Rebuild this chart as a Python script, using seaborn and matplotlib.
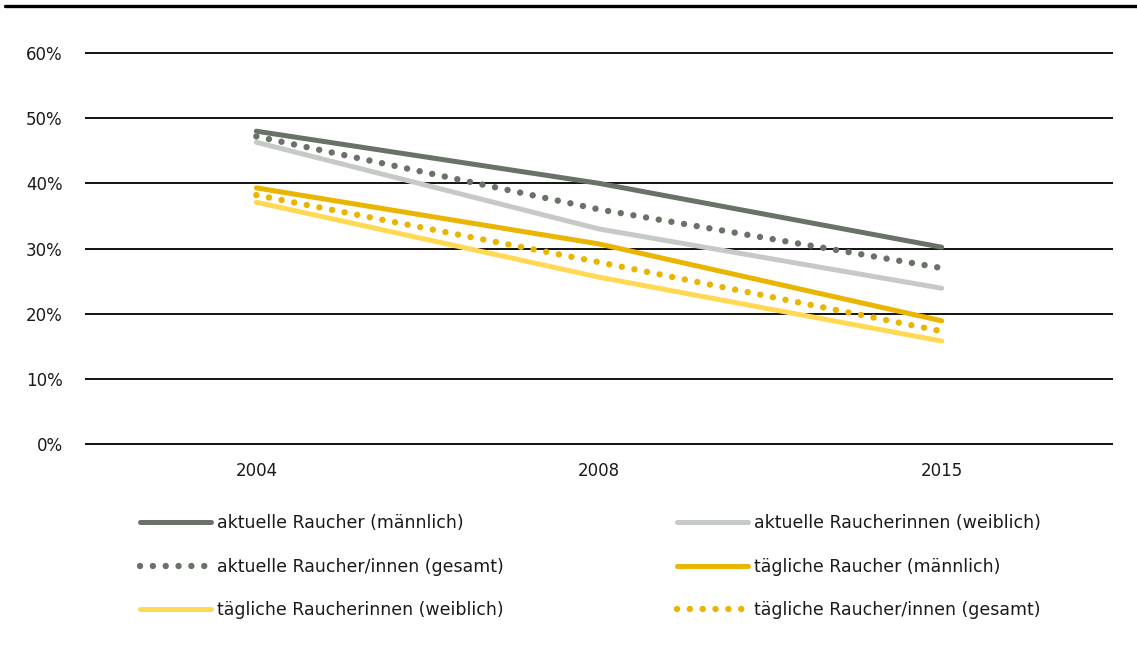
"""
Raucherquoten 2004 / 2008 / 2015 als Liniendiagramm
"""

import numpy as np
import pandas as pd
import matplotlib
matplotlib.use('Agg')
import matplotlib.pyplot as plt
from matplotlib.lines import Line2D
from matplotlib.ticker import PercentFormatter
import seaborn as sns

sns.set_theme(style='white')
plt.rcParams['font.family'] = ['DejaVu Sans']

# Daten (Anteile in %)
jahre = ['2004', '2008', '2015']
serien = [
    'aktuelle Raucher (männlich)',
    'aktuelle Raucherinnen (weiblich)',
    'aktuelle Raucher/innen (gesamt)',
    'tägliche Raucher (männlich)',
    'tägliche Raucherinnen (weiblich)',
    'tägliche Raucher/innen (gesamt)',
]
akt_m = [48.0, 40.0, 30.2]
akt_w = [46.3, 33.0, 23.9]
akt_g = [47.2, 36.0, 27.0]
tgl_m = [39.3, 30.7, 18.9]
tgl_w = [37.1, 25.6, 15.8]
tgl_g = [38.2, 27.9, 17.3]

farben = ['#697267', '#c6cac7', '#697267', '#e9b500', '#ffd954', '#e9b500']
gepunktet = [False, False, True, False, False, True]

werte = [akt_m, akt_w, akt_g, tgl_m, tgl_w, tgl_g]
df = pd.DataFrame({
    'Jahr': jahre * len(serien),
    'Anteil': np.concatenate(werte) / 100,
    'Serie': np.repeat(serien, len(jahre)),
})

W, H = 1137, 653
fig = plt.figure(figsize=(W / 100, H / 100), dpi=100)
y0, y60 = 444, 53
pad = 0.006
px_per = (y0 - y60) / 0.6
ax_bottom = H - y0 - pad * px_per
ax_top = H - y60 + pad * px_per
ax = fig.add_axes([85 / W, ax_bottom / H, (1113 - 85) / W, (ax_top - ax_bottom) / H])

for name, col, dot in zip(serien, farben, gepunktet):
    sub = df[df.Serie == name]
    sns.lineplot(data=sub, x='Jahr', y='Anteil', color=col, ax=ax,
                 lw=4.6 if dot else 3.6, ls=(0, (0.01, 2.0)) if dot else '-',
                 label=name, legend=False, sort=False)

for ln in ax.get_lines():
    ln.set_dash_capstyle('round')
    ln.set_solid_capstyle('round')

ax.set_xlim(-0.5, 2.5)
ax.set_ylim(-pad, 0.6 + pad)
ax.set_yticks(np.arange(0, 0.61, 0.1))
ax.yaxis.set_major_formatter(PercentFormatter(1.0, decimals=0))
ax.grid(axis='y', color='black', lw=1.3)
ax.grid(axis='x', visible=False)
ax.set_axisbelow(True)
for s in ax.spines.values():
    s.set_visible(False)
ax.tick_params(axis='y', length=0, pad=16, labelsize=12, colors='#1a1a1a')
ax.tick_params(axis='x', length=0, pad=10, labelsize=12, colors='#1a1a1a')
ax.set_xlabel('')
ax.set_ylabel('')

# obere Linie
fig.add_artist(Line2D([5 / W, 1.0], [1 - 6 / H, 1 - 6 / H], color='black', lw=2.4))

# Legende in zwei Spalten
handles = ax.get_lines()
def make_legend(idx, x):
    leg = fig.legend([handles[i] for i in idx], [serien[i] for i in idx],
                     loc='upper left', bbox_to_anchor=(x / W, 1 - 514 / H),
                     frameon=False, fontsize=12.5, handlelength=4.1,
                     handletextpad=0.35, labelspacing=1.48, borderaxespad=0,
                     borderpad=0, labelcolor='#1a1a1a')
    return leg

make_legend([0, 2, 4], 140)
make_legend([1, 3, 5], 677)

fig.savefig('out.png', dpi=100)
plt.close()
